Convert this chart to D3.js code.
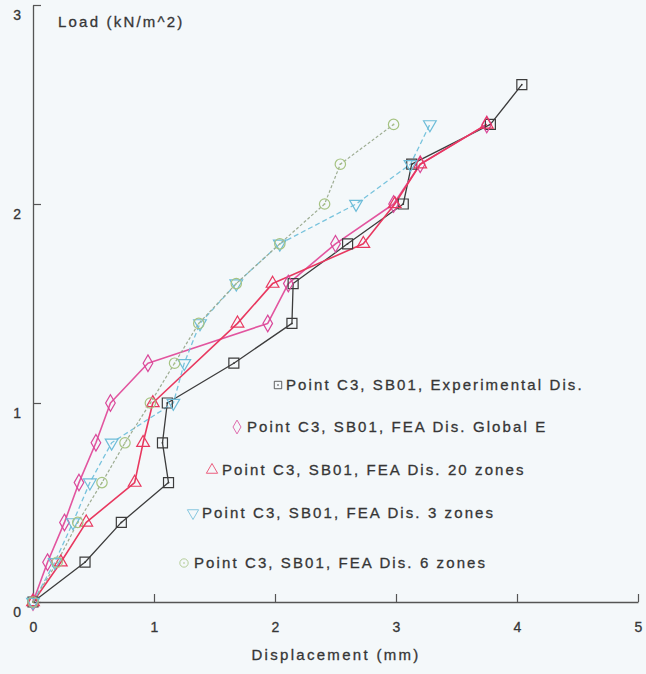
<!DOCTYPE html>
<html>
<head>
<meta charset="utf-8">
<script src="https://cdn.jsdelivr.net/npm/d3@7"></script>
<style>
  html, body { margin: 0; padding: 0; background: #f4f8fa; }
  svg { display: block; }
  text { font-family: "Liberation Sans", Arial, sans-serif; fill: #363636; }
  .heavy { stroke: #363636; stroke-width: 0.3px; }
</style>
</head>
<body>
<svg id="chart" width="646" height="674"></svg>
<script>
// ---- data (load in kN/m^2, displacement in mm) ----
const loadsExp = [0, 0.2, 0.4, 0.6, 0.8, 1.0, 1.2, 1.4, 1.6, 1.8, 2.0, 2.2, 2.4, 2.6];
const dispExp  = [0, 0.43, 0.73, 1.12, 1.07, 1.11, 1.66, 2.14, 2.15, 2.60, 3.06, 3.13, 3.78, 4.04];

const loadsGlobal = [0, 0.2, 0.4, 0.6, 0.8, 1.0, 1.2, 1.4, 1.6, 1.8, 2.0, 2.2, 2.4];
const dispGlobal  = [0, 0.12, 0.26, 0.38, 0.52, 0.64, 0.95, 1.94, 2.11, 2.50, 2.98, 3.20, 3.75];

const loads20 = [0, 0.2, 0.4, 0.6, 0.8, 1.0, 1.4, 1.6, 1.8, 2.0, 2.2, 2.4];
const disp20  = [0, 0.23, 0.44, 0.84, 0.91, 0.99, 1.69, 1.98, 2.73, 2.99, 3.20, 3.75];

const loads3 = [0, 0.2, 0.4, 0.6, 0.8, 1.0, 1.2, 1.4, 1.6, 1.8, 2.0, 2.2, 2.4];
const disp3  = [0, 0.18, 0.33, 0.47, 0.65, 1.16, 1.25, 1.38, 1.68, 2.04, 2.67, 3.12, 3.28];

const loads6 = [0, 0.2, 0.4, 0.6, 0.8, 1.0, 1.2, 1.4, 1.6, 1.8, 2.0, 2.2, 2.4];
const disp6  = [0, 0.20, 0.37, 0.57, 0.76, 0.97, 1.17, 1.37, 1.68, 2.04, 2.41, 2.54, 2.98];

const xTicks = [0, 1, 2, 3, 4, 5];
const yTicks = [0, 1, 2, 3];

const seriesNames = [
  "Point C3, SB01, Experimental Dis.",
  "Point C3, SB01, FEA Dis. Global E",
  "Point C3, SB01, FEA Dis. 20 zones",
  "Point C3, SB01, FEA Dis. 3 zones",
  "Point C3, SB01, FEA Dis. 6 zones"
];

// ---- styles ----
const styles = [
  { line: "#3c3c3c", mark: "#3c3c3c", dash: null,  sym: "square",  dot: true,  w: 1.3 },
  { line: "#e2559f", mark: "#d9489a", dash: null,  sym: "diamond", dot: false, w: 1.6 },
  { line: "#e8385f", mark: "#e8385f", dash: null,  sym: "triangle", dot: false, w: 1.6 },
  { line: "#78c3dd", mark: "#6dbcd8", dash: "5,3", sym: "triDown", dot: false, w: 1.3 },
  { line: "#9dac92", mark: "#a6c382", dash: "3,2", sym: "circle",  dot: true,  w: 1.2 }
];

const series = [
  { x: dispExp, y: loadsExp },
  { x: dispGlobal, y: loadsGlobal },
  { x: disp20, y: loads20 },
  { x: disp3, y: loads3 },
  { x: disp6, y: loads6 }
].map((s, i) => ({ name: seriesNames[i], style: styles[i], pts: s.x.map((d, j) => [d, s.y[j]]) }));

const svg = d3.select("#chart");
const x = d3.scaleLinear().domain([0, 5]).range([33, 638]);
const y = d3.scaleLinear().domain([0, 3]).range([602, 5]);

function symbolPath(sym, size) {
  const map = {
    square: d3.symbolSquare, diamond: d3.symbolDiamond, triangle: d3.symbolTriangle,
    triDown: d3.symbolTriangle, circle: d3.symbolCircle
  };
  return d3.symbol().type(map[sym]).size(size)();
}
const symSize = { square: 100, diamond: 80, triangle: 70, triDown: 70, circle: 85 };

// ---- axes ----
const xAxis = d3.axisBottom(x).tickValues(xTicks).tickFormat(d3.format("d"))
  .tickSizeInner(-8).tickSizeOuter(0).tickPadding(20);
const yAxis = d3.axisLeft(y).tickValues(yTicks).tickFormat(d3.format("d"))
  .tickSizeInner(-8).tickSizeOuter(0).tickPadding(12);

const gx = svg.append("g").attr("transform", `translate(0,${y(0)})`).call(xAxis);
const gy = svg.append("g").attr("transform", `translate(${x(0)},0)`).call(yAxis);
[gx, gy].forEach(g => {
  g.select(".domain").attr("stroke", "#555").attr("stroke-width", 1.3);
  g.selectAll(".tick line").attr("stroke", "#555").attr("stroke-width", 1.2);
  g.selectAll(".tick text").attr("font-size", 14).attr("fill", "#363636")
    .attr("font-family", "Liberation Sans, Arial, sans-serif").attr("class", "heavy");
});
gy.selectAll(".tick text").attr("dy", "1.0em");

// ---- lines ----
const line = d3.line().x(d => x(d[0])).y(d => y(d[1]));
const plot = svg.append("g");
series.forEach(s => {
  plot.append("path").datum(s.pts)
    .attr("d", line).attr("fill", "none")
    .attr("stroke", s.style.line).attr("stroke-width", s.style.w)
    .attr("stroke-dasharray", s.style.dash)
    .attr("stroke-linejoin", "round");
});
// markers
series.forEach(s => {
  const g = plot.append("g");
  const rot = s.style.sym === "triDown" ? " rotate(180)" : "";
  g.selectAll("path").data(s.pts).join("path")
    .attr("transform", d => `translate(${x(d[0])},${y(d[1])})${rot}`)
    .attr("d", symbolPath(s.style.sym, symSize[s.style.sym]))
    .attr("fill", "none").attr("stroke", s.style.mark).attr("stroke-width", 1.2);
  if (s.style.dot) {
    g.selectAll("circle").data(s.pts).join("circle")
      .attr("cx", d => x(d[0])).attr("cy", d => y(d[1])).attr("r", 0.9)
      .attr("fill", s.style.mark);
  }
});

// ---- titles ----
svg.append("text").attr("x", 58).attr("y", 27).attr("class", "heavy")
  .attr("font-size", 15).attr("letter-spacing", "2.2px")
  .text("Load (kN/m^2)");
svg.append("text").attr("x", 336).attr("y", 660).attr("text-anchor", "middle").attr("class", "heavy")
  .attr("font-size", 15).attr("letter-spacing", "2.3px")
  .text("Displacement (mm)");

// ---- legend ----
const legendPos = [
  { mx: 278, tx: 286, by: 390 },
  { mx: 237, tx: 247, by: 432 },
  { mx: 212, tx: 222, by: 475 },
  { mx: 193, tx: 202, by: 518 },
  { mx: 184, tx: 194, by: 568 }
];
const legend = svg.append("g");
series.forEach((s, i) => {
  const p = legendPos[i];
  const rot = s.style.sym === "triDown" ? " rotate(180)" : "";
  legend.append("path")
    .attr("transform", `translate(${p.mx},${p.by - 5})${rot}`)
    .attr("d", symbolPath(s.style.sym, 55))
    .attr("fill", "none").attr("stroke", s.style.mark).attr("stroke-width", 1).attr("opacity", 0.8);
  if (s.style.dot) {
    legend.append("circle").attr("cx", p.mx).attr("cy", p.by - 5).attr("r", 0.8)
      .attr("fill", s.style.mark);
  }
  legend.append("text").attr("x", p.tx).attr("y", p.by).attr("class", "heavy")
    .attr("font-size", 15).attr("letter-spacing", "2.1px")
    .text(s.name);
});
</script>
</body>
</html>
